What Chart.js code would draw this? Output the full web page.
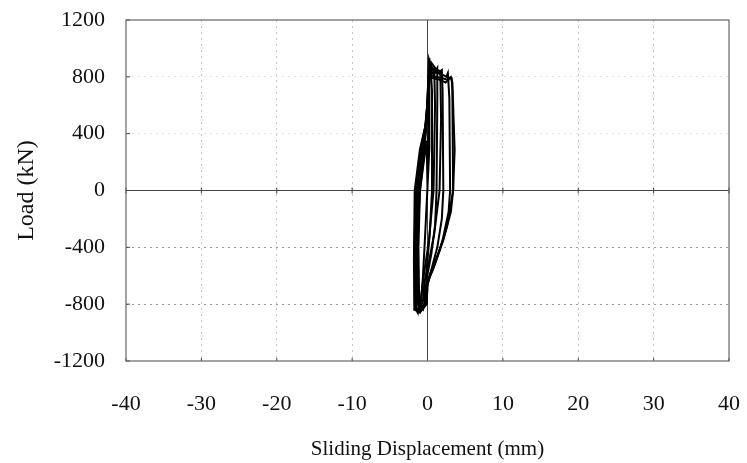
<!DOCTYPE html>
<html>
<head>
<meta charset="utf-8">
<script src="https://cdn.jsdelivr.net/npm/chart.js@4/dist/chart.umd.min.js"></script>
<style>
  body { margin: 0; background: #fff; }
  #wrap { width: 747px; height: 463px; }
</style>
</head>
<body>
<div id="wrap"><canvas id="myChart" width="747" height="463"></canvas></div>
<script>
// axis ticks
const xTicks = [-40, -30, -20, -10, 0, 10, 20, 30, 40];
const yTicks = [-1200, -800, -400, 0, 400, 800, 1200];

// hysteresis cycles (mm, kN)
const loop0X = [0.0, 0.1, 0.2, 0.25, 0.3, 0.2, -0.3, -0.6, -0.8, -1.1, -1.2, -1.0, -0.5, -0.1, 0.0];
const loop0Y = [0, 350, 700, 930, 900, 300, -300, -600, -760, -830, -400, 0, 200, 350, 0];

const loop1X = [-1.2, -1.3, -1.0, -0.4, -0.1, 0.1, 0.2, 0.4, 0.6, 0.6, 0.3, -0.1, -0.2, -0.6, -1.2];
const loop1Y = [-820, -300, 0, 280, 500, 750, 920, 880, 700, 0, -300, -550, -760, -840, -820];

const loop2X = [-1.4, -1.5, -1.3, -0.6, -0.1, 0.1, 0.3, 0.8, 1.3, 1.3, 1.2, 1.0, 0.5, -0.1, -0.2, -0.9, -1.4];
const loop2Y = [-840, -350, 0, 260, 480, 700, 850, 820, 862, 650, 0, -250, -450, -620, -780, -840, -840];

const loop3X = [-1.5, -1.6, -1.5, -0.8, -0.2, 0.0, 0.2, 0.9, 1.5, 1.9, 2.0, 2.1, 1.9, 1.3, 0.5, 0.0, -0.1, -0.9, -1.5];
const loop3Y = [-850, -400, 0, 270, 450, 650, 880, 840, 830, 848, 700, 0, -200, -400, -560, -660, -800, -850, -850];

const loop4X = [-1.6, -1.7, -1.6, -0.9, -0.3, 0.0, 0.3, 1.0, 1.8, 2.5, 2.7, 2.9, 3.0, 2.8, 2.0, 1.1, 0.3, -0.2, -0.3, -1.0, -1.6];
const loop4Y = [-830, -450, 0, 280, 440, 620, 860, 830, 820, 800, 827, 650, 0, -150, -350, -500, -610, -700, -790, -860, -830];

const loop5X = [-1.7, -1.8, -1.7, -1.0, -0.3, 0.0, 0.1, 0.8, 1.6, 2.4, 3.0, 3.2, 3.3, 3.4, 3.1, 2.1, 0.7, 0.0, -0.1, -0.8, -1.3, -1.7];
const loop5Y = [-800, -500, 0, 290, 450, 620, 800, 790, 780, 760, 790, 790, 700, 0, -150, -350, -560, -640, -780, -830, -860, -800];

const loop6X = [-1.6, -1.7, -1.6, -0.9, -0.2, 0.05, 0.2, 1.0, 2.0, 2.6, 3.1, 3.3, 3.6, 3.4, 2.6, 1.6, 0.4, -0.3, -0.4, -1.1, -1.6];
const loop6Y = [-820, -450, 0, 290, 470, 640, 820, 800, 790, 780, 800, 760, 285, 0, -250, -420, -580, -690, -800, -840, -820];

const loop7X = [-1.3, -1.4, -1.2, -0.5, 0.0, 0.3, 0.6, 0.9, 1.0, 0.8, 0.2, -0.5, -0.8, -1.0, -1.3];
const loop7Y = [-800, -300, 0, 320, 560, 800, 870, 850, 600, 0, -350, -600, -720, -820, -800];

const loop8X = [-1.7, -1.75, -1.5, -0.7, -0.1, 0.2, 0.5, 1.2, 1.7, 1.8, 1.6, 0.9, 0.2, -0.4, -0.6, -1.2, -1.7];
const loop8Y = [-840, -420, 0, 300, 520, 760, 900, 850, 840, 500, 0, -300, -500, -640, -780, -850, -840];

const loopsX = [loop0X, loop1X, loop2X, loop3X, loop4X, loop5X, loop6X, loop7X, loop8X];
const loopsY = [loop0Y, loop1Y, loop2Y, loop3Y, loop4Y, loop5Y, loop6Y, loop7Y, loop8Y];

const serif = "'Liberation Serif', 'Times New Roman', serif";

const datasets = loopsX.map((xs, i) => ({
  data: xs.map((x, j) => ({ x: x, y: loopsY[i][j] })),
  showLine: true,
  borderColor: "#000",
  borderWidth: 2,
  pointRadius: 0,
  tension: 0,
  fill: false,
}));

// frame, zero lines and small tick marks on the zero line
const framePlugin = {
  id: "frame",
  beforeDatasetsDraw(chart) {
    const { ctx, chartArea: a, scales } = chart;
    const x0 = scales.x.getPixelForValue(0);
    const y0 = scales.y.getPixelForValue(0);
    ctx.save();
    ctx.strokeStyle = "#444";
    ctx.lineWidth = 1;
    ctx.beginPath();
    ctx.moveTo(a.left, y0);
    ctx.lineTo(a.right, y0);
    ctx.moveTo(x0, a.top);
    ctx.lineTo(x0, a.bottom);
    xTicks.forEach((t) => {
      const px = scales.x.getPixelForValue(t);
      ctx.moveTo(px, y0 - 3);
      ctx.lineTo(px, y0 + 3);
      ctx.moveTo(px, a.bottom - 3);
      ctx.lineTo(px, a.bottom);
    });
    yTicks.forEach((t) => {
      const py = scales.y.getPixelForValue(t);
      ctx.moveTo(a.left, py);
      ctx.lineTo(a.left + 4, py);
    });
    ctx.stroke();
    ctx.strokeStyle = "#666";
    ctx.lineWidth = 1.2;
    ctx.strokeRect(a.left, a.top, a.right - a.left, a.bottom - a.top);
    ctx.restore();
  },
};

new Chart(document.getElementById("myChart"), {
  type: "scatter",
  data: { datasets: datasets },
  plugins: [framePlugin],
  options: {
    responsive: false,
    animation: false,
    devicePixelRatio: 1,
    layout: { padding: { top: 20, right: 18, left: 0, bottom: 0 } },
    plugins: { legend: { display: false }, tooltip: { enabled: false } },
    scales: {
      x: {
        type: "linear",
        min: -40,
        max: 40,
        afterBuildTicks: (s) => { s.ticks = xTicks.map((v) => ({ value: v })); },
        afterFit: (s) => {
          s.height = 102;
          s.paddingLeft = 0;
          s.paddingRight = 0;
        },
        ticks: { color: "#111", font: { family: serif, size: 22 }, padding: 30, maxRotation: 0, callback: (v) => String(v) },
        grid: {
          drawTicks: false,
          color: (c) => (Math.abs(c.tick.value) === 40 || c.tick.value === 0 ? "rgba(0,0,0,0)" : "#c4c4c4"),
          lineWidth: 1,
        },
        border: { display: false, dash: [2, 4] },
        title: {
          display: true,
          text: "Sliding Displacement (mm)",
          color: "#111",
          font: { family: serif, size: 21 },
          padding: { top: 0, bottom: 1 },
        },
      },
      y: {
        type: "linear",
        min: -1200,
        max: 1200,
        afterBuildTicks: (s) => { s.ticks = yTicks.map((v) => ({ value: v })); },
        afterFit: (s) => {
          s.width = 126;
          s.paddingTop = 0;
          s.paddingBottom = 0;
        },
        ticks: { color: "#111", font: { family: serif, size: 22 }, padding: 21, callback: (v) => String(v) },
        grid: {
          drawTicks: false,
          color: (c) => {
            const v = c.tick.value;
            if (Math.abs(v) === 1200 || v === 0) return "rgba(0,0,0,0)";
            return v < 0 ? "#9a9a9a" : "#e4e4e4";
          },
          lineWidth: 1,
        },
        border: { display: false, dash: [2, 4] },
        title: {
          display: true,
          text: "Load (kN)",
          color: "#111",
          font: { family: serif, size: 24 },
          padding: { top: 12, bottom: 0 },
        },
      },
    },
  },
});
</script>
</body>
</html>
